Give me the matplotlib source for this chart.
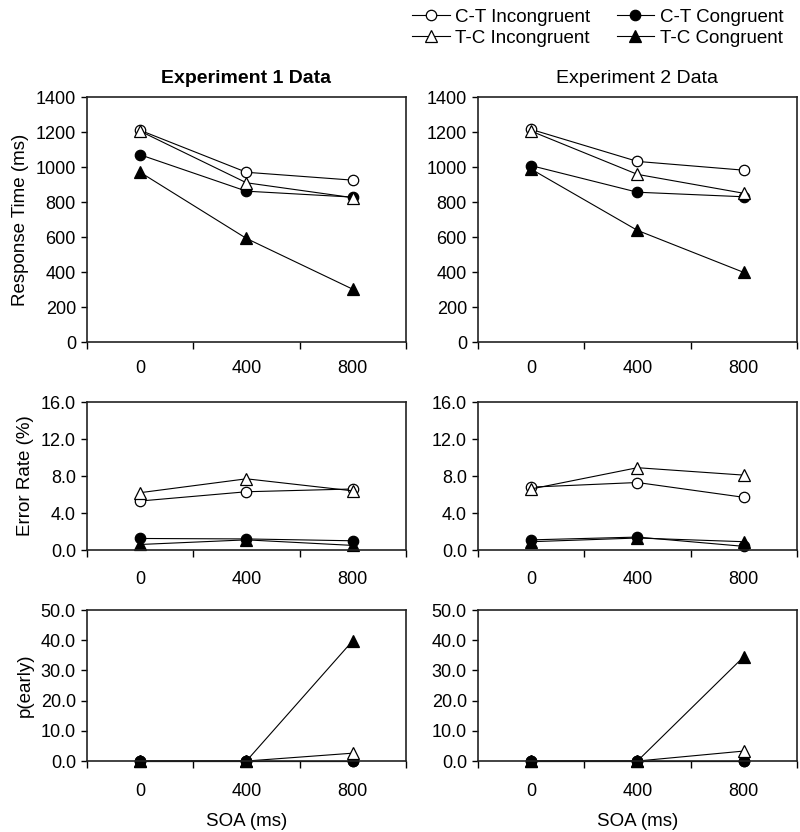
import numpy as np
import matplotlib.pyplot as plt
from matplotlib.lines import Line2D

plt.rcParams['font.family'] = ['Liberation Sans', 'DejaVu Sans']

soa = ['0', '400', '800']
series = ['C-T Incongruent', 'C-T Congruent', 'T-C Incongruent', 'T-C Congruent']

# Experiment 1
rt1 = {'C-T Incongruent': [1210, 970, 925],
       'C-T Congruent': [1070, 862, 828],
       'T-C Incongruent': [1205, 910, 825],
       'T-C Congruent': [970, 592, 302]}
err1 = {'C-T Incongruent': [5.3, 6.3, 6.6],
        'C-T Congruent': [1.25, 1.2, 1.0],
        'T-C Incongruent': [6.2, 7.7, 6.4],
        'T-C Congruent': [0.6, 1.1, 0.5]}
early1 = {'C-T Incongruent': [0.0, 0.0, 0.0],
          'C-T Congruent': [0.0, 0.0, 0.0],
          'T-C Incongruent': [0.0, 0.0, 2.6],
          'T-C Congruent': [0.0, 0.0, 39.8]}

# Experiment 2
rt2 = {'C-T Incongruent': [1215, 1032, 982],
       'C-T Congruent': [1008, 856, 830],
       'T-C Incongruent': [1205, 958, 850],
       'T-C Congruent': [988, 638, 398]}
err2 = {'C-T Incongruent': [6.8, 7.3, 5.7],
        'C-T Congruent': [1.1, 1.4, 0.4],
        'T-C Incongruent': [6.6, 8.9, 8.1],
        'T-C Congruent': [0.9, 1.3, 0.9]}
early2 = {'C-T Incongruent': [0.0, 0.0, 0.0],
          'C-T Congruent': [0.0, 0.0, 0.0],
          'T-C Incongruent': [0.0, 0.0, 3.3],
          'T-C Congruent': [0.0, 0.0, 34.5]}

style = {'C-T Incongruent': dict(marker='o', mfc='white', ms=7.5),
         'C-T Congruent': dict(marker='o', mfc='black', ms=7.5),
         'T-C Incongruent': dict(marker='^', mfc='white', ms=8.5),
         'T-C Congruent': dict(marker='^', mfc='black', ms=8.5)}

fig = plt.figure(figsize=(8, 8.32), dpi=100)

cols = [0.10875, 0.5975]
w = 0.3985
rows = [(0.5889, 0.2945), (0.3389, 0.1779), (0.0853, 0.1815)]
xpads = [13, 15, 16]
data = [[rt1, err1, early1], [rt2, err2, early2]]
ylims = [(0, 1400, 200, '%d'), (0, 16, 4, '%.1f'), (0, 50, 10, '%.1f')]
ylabels = ['Response Time (ms)', 'Error Rate (%)', 'p(early)']

x = np.arange(len(soa))
for c in range(2):
    for r in range(3):
        ax = fig.add_axes([cols[c], rows[r][0], w, rows[r][1]])
        d = data[c][r]
        for s in series:
            ax.plot(x, d[s], color='black', lw=0.8, mec='black', mew=0.9,
                    clip_on=False, **style[s])
        lo, hi, step, fmt = ylims[r]
        ticks = np.arange(lo, hi + step / 2, step)
        ax.set_ylim(lo, hi)
        ax.set_yticks(ticks)
        ax.set_yticklabels([fmt % v for v in ticks])
        ax.set_xlim(-0.5, 2.5)
        ax.set_xticks([-0.5, 0.5, 1.5, 2.5])
        ax.set_xticklabels([])
        ax.set_xticks(x, minor=True)
        ax.set_xticklabels(soa, minor=True)
        ax.tick_params(axis='x', which='major', direction='out', length=5, width=1)
        ax.tick_params(axis='x', which='minor', length=0, pad=xpads[r], labelsize=13)
        ax.tick_params(axis='y', direction='out', length=4, width=1, labelsize=13, pad=4)
        for sp in ax.spines.values():
            sp.set_linewidth(1.2)
            sp.set_color('#222222')
        if c == 0:
            ax.set_ylabel(ylabels[r], fontsize=13.5, labelpad=5)
        if r == 0:
            ax.set_title('Experiment %d Data' % (c + 1), fontsize=14, pad=10,
                         fontweight='bold' if c == 0 else 'normal')
        if r == 2:
            ax.set_xlabel('SOA (ms)', fontsize=13.5, labelpad=9)

labels = ['C-T Incongruent', 'T-C Incongruent', 'C-T Congruent', 'T-C Congruent']
handles = [Line2D([], [], color='black', lw=0.8, mec='black', mew=0.9, **style[s])
           for s in labels]
fig.legend(handles, labels, ncol=2, loc='upper right', bbox_to_anchor=(1.0, 1.01),
           frameon=False, fontsize=13.5, handlelength=2.0, handletextpad=0.3,
           columnspacing=1.4, labelspacing=0.2)

plt.savefig('out.png', dpi=100)
